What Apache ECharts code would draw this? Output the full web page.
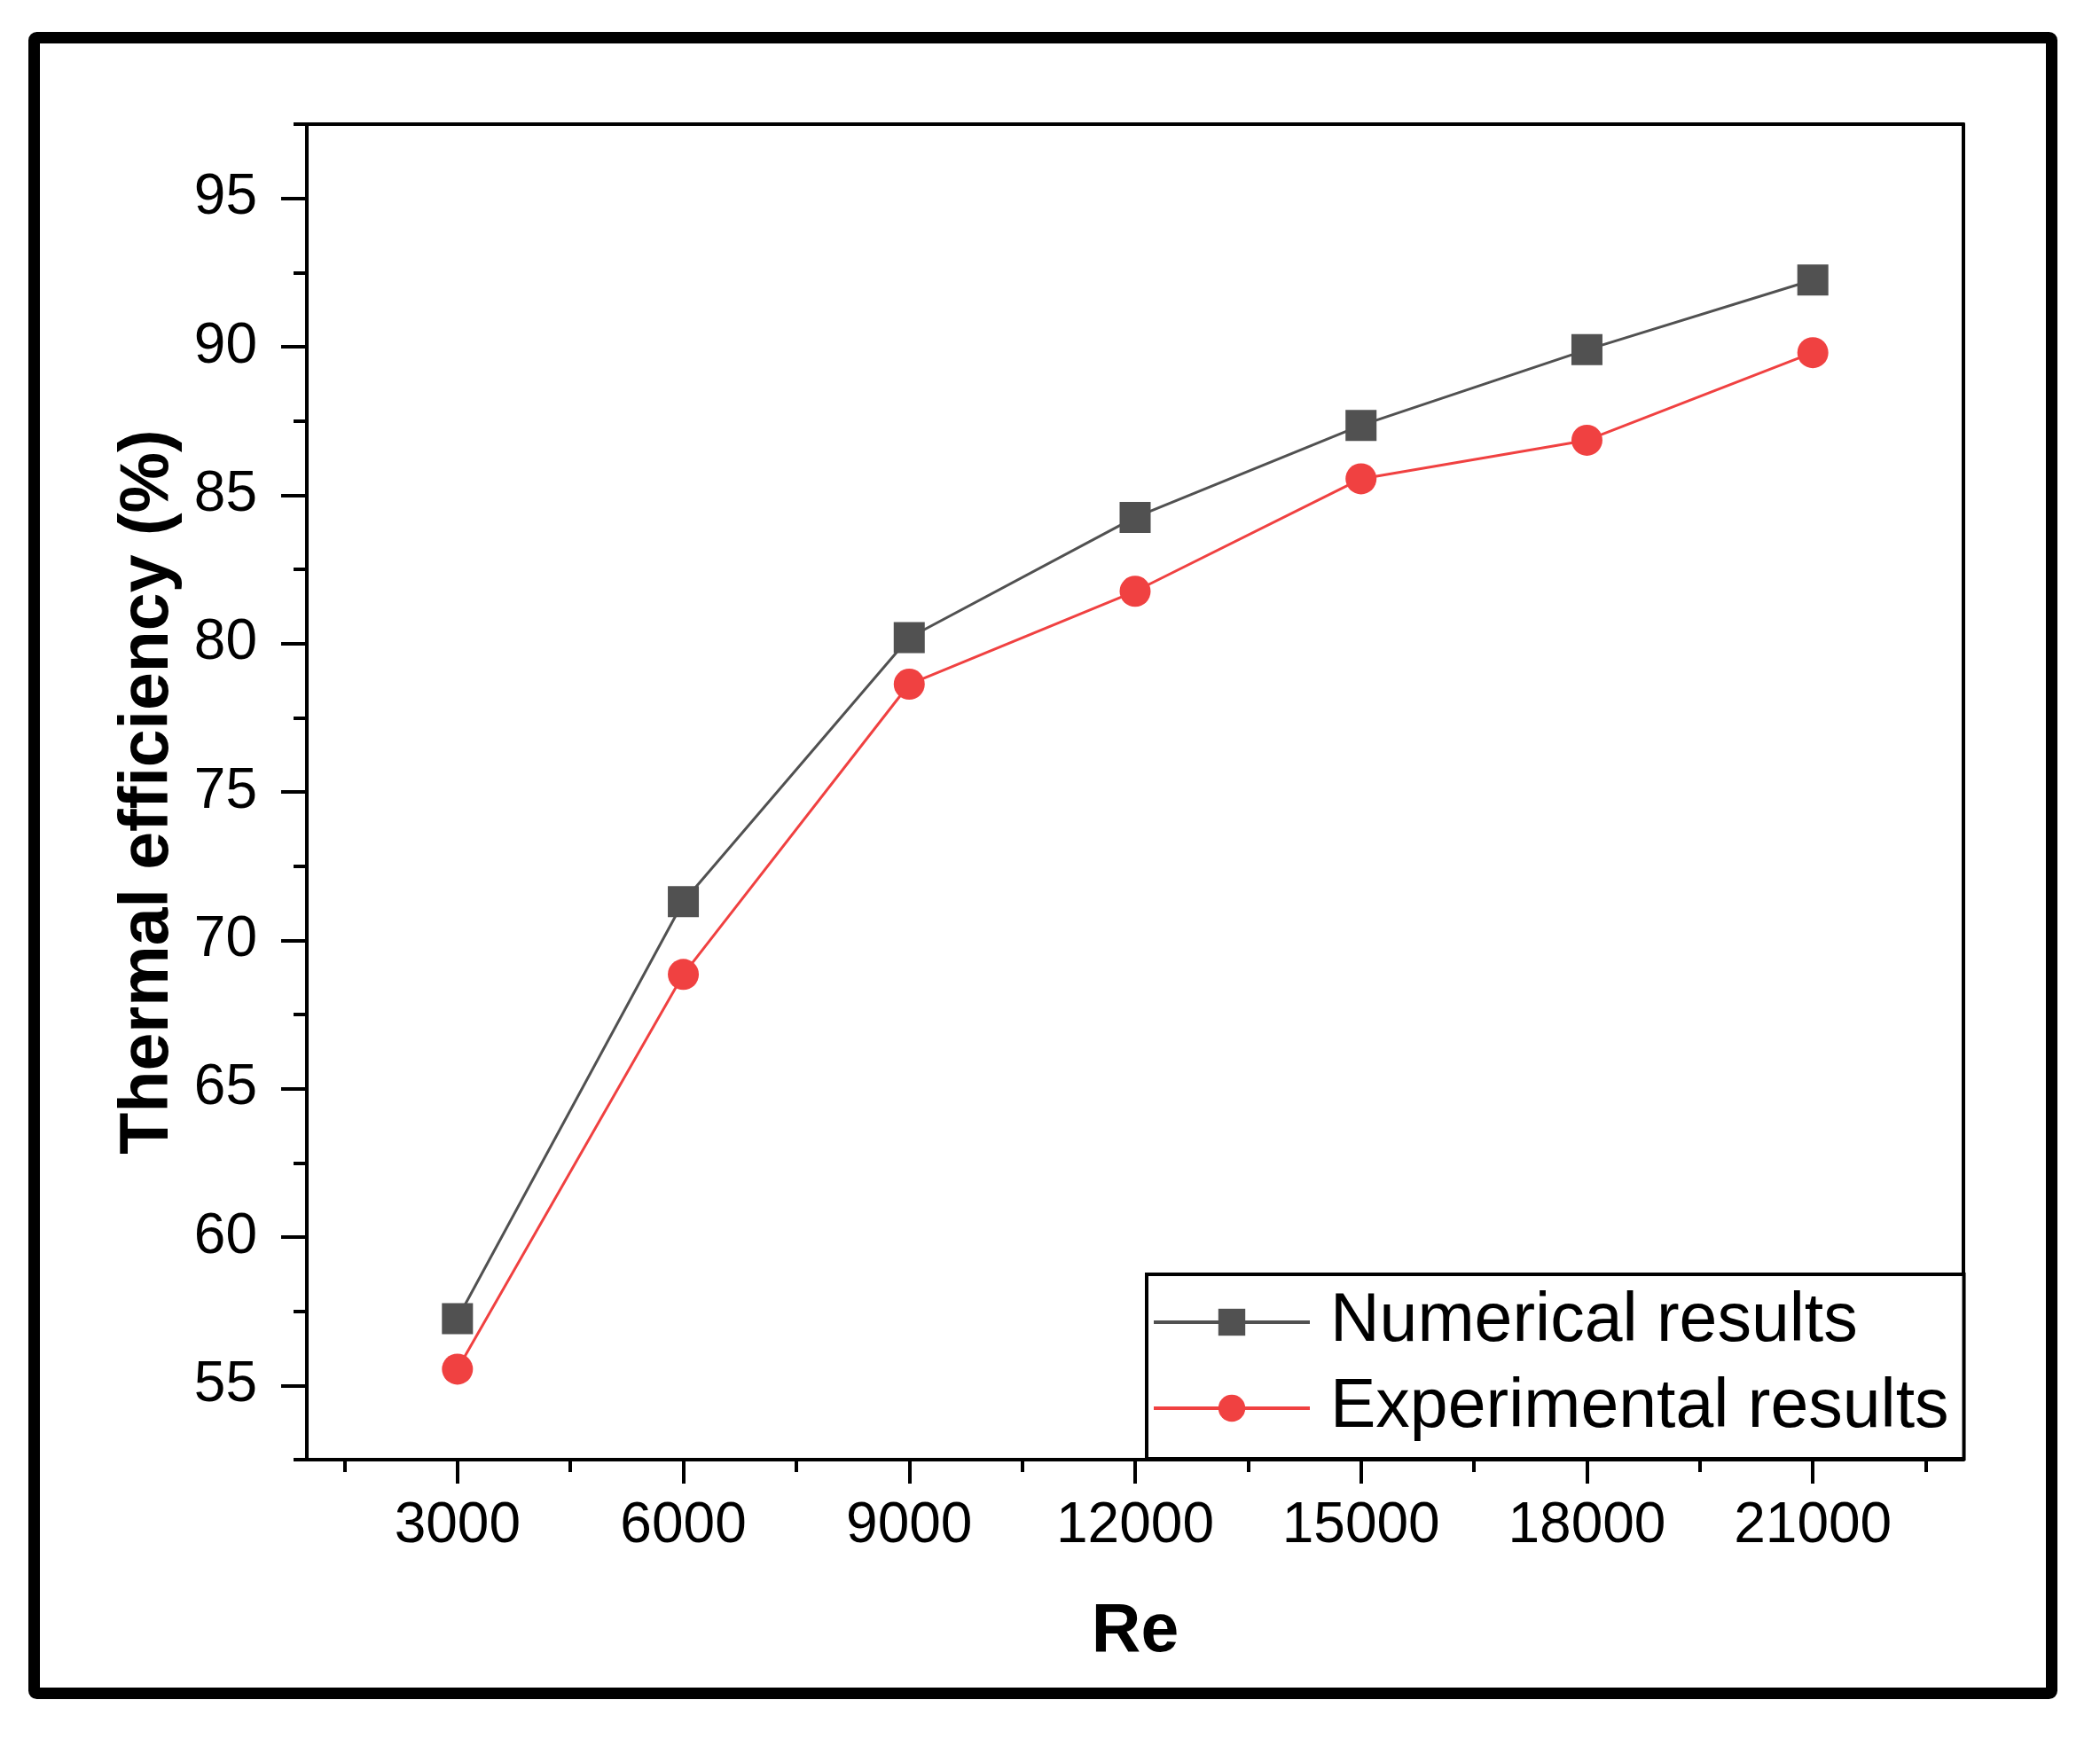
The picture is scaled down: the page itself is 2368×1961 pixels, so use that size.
<!DOCTYPE html>
<html>
<head>
<meta charset="utf-8">
<script src="https://cdn.jsdelivr.net/npm/echarts@6/dist/echarts.min.js"></script>
<style>
html,body{margin:0;padding:0;background:#fff;}
#chart{width:2368px;height:1961px;}
</style>
</head>
<body>
<div id="chart"></div>
<script>
// ---- data ----
const reynolds = [3000, 6000, 9000, 12000, 15000, 18000, 21000];
const numerical = [57.25, 71.3, 80.2, 84.25, 87.35, 89.9, 92.25];
const experimental = [55.55, 68.85, 78.63, 81.76, 85.55, 86.85, 89.8];
const xMajorTicks = [3000, 6000, 9000, 12000, 15000, 18000, 21000];
const xMinorTicks = [1500, 4500, 7500, 10500, 13500, 16500, 19500, 22500];
const yMajorTicks = [55, 60, 65, 70, 75, 80, 85, 90, 95];
const yMinorTicks = [52.5, 57.5, 62.5, 67.5, 72.5, 77.5, 82.5, 87.5, 92.5, 97.5];
const seriesNames = ['Numerical results', 'Experimental results'];

const FONT = 'Liberation Sans, Arial, sans-serif';
const GRAY = '#515151';
const RED = '#F04141';

const chart = echarts.init(document.getElementById('chart'), null, {renderer: 'canvas'});

const axisLineStyle = {show: true, lineStyle: {color: '#000', width: 4}};

const option = {
  backgroundColor: '#fff',
  animation: false,
  grid: {left: 346, right: 154, top: 140, bottom: 315, containLabel: false},
  graphic: [{
    type: 'rect',
    shape: {x: 38.5, y: 42.5, width: 2275, height: 1867, r: 3},
    style: {fill: 'none', stroke: '#000', lineWidth: 13},
    silent: true, z: 100
  }],
  xAxis: [{
    type: 'value', min: 1000, max: 23000, position: 'bottom',
    axisLine: axisLineStyle,
    axisTick: {show: true, inside: false, length: 27, customValues: xMajorTicks, lineStyle: {color: '#000', width: 4}},
    axisLabel: {show: true, customValues: xMajorTicks, margin: 43, fontSize: 64, fontFamily: FONT, color: '#000',
      formatter: v => String(v)},
    splitLine: {show: false},
    name: 'Re', nameLocation: 'middle', nameGap: 156,
    nameTextStyle: {fontSize: 77, fontWeight: 'bold', fontFamily: FONT, color: '#000'}
  }, {
    type: 'value', min: 1000, max: 23000, position: 'bottom',
    axisLine: {show: false},
    axisTick: {show: true, length: 14, customValues: xMinorTicks, lineStyle: {color: '#000', width: 4}},
    axisLabel: {show: false},
    splitLine: {show: false}
  }, {
    type: 'value', min: 1000, max: 23000, position: 'top',
    axisLine: axisLineStyle,
    axisTick: {show: false}, axisLabel: {show: false}, splitLine: {show: false}
  }],
  yAxis: [{
    type: 'value', min: 52.5, max: 97.5, position: 'left',
    axisLine: axisLineStyle,
    axisTick: {show: true, length: 29, customValues: yMajorTicks, lineStyle: {color: '#000', width: 4}},
    axisLabel: {show: true, customValues: yMajorTicks, margin: 56, fontSize: 64, fontFamily: FONT, color: '#000'},
    splitLine: {show: false},
    name: 'Thermal efficiency (%)', nameLocation: 'middle', nameGap: 140, nameRotate: 90,
    nameTextStyle: {fontSize: 77, fontWeight: 'bold', fontFamily: FONT, color: '#000'}
  }, {
    type: 'value', min: 52.5, max: 97.5, position: 'left',
    axisLine: {show: false},
    axisTick: {show: true, length: 15, customValues: yMinorTicks, lineStyle: {color: '#000', width: 4}},
    axisLabel: {show: false},
    splitLine: {show: false}
  }, {
    type: 'value', min: 52.5, max: 97.5, position: 'right',
    axisLine: axisLineStyle,
    axisTick: {show: false}, axisLabel: {show: false}, splitLine: {show: false}
  }],
  legend: {
    orient: 'vertical', left: 1293, top: 1437,
    padding: [14, 17, 17, 6],
    itemWidth: 176, itemHeight: 38, itemGap: 17,
    borderColor: '#000', borderWidth: 4, backgroundColor: '#fff',
    lineStyle: {width: 4},
    textStyle: {fontFamily: FONT, fontSize: 77, color: '#000', lineHeight: 80, padding: [0, 0, 0, 18]},
    data: seriesNames
  },
  series: [{
    name: seriesNames[0], type: 'line', xAxisIndex: 0, yAxisIndex: 0,
    data: reynolds.map((r, i) => [r, numerical[i]]),
    symbol: 'rect', symbolSize: 35,
    lineStyle: {color: GRAY, width: 3},
    itemStyle: {color: GRAY},
    z: 3
  }, {
    name: seriesNames[1], type: 'line', xAxisIndex: 0, yAxisIndex: 0,
    data: reynolds.map((r, i) => [r, experimental[i]]),
    symbol: 'circle', symbolSize: 35,
    lineStyle: {color: RED, width: 3},
    itemStyle: {color: RED},
    z: 4
  }]
};
chart.setOption(option);
</script>
</body>
</html>
